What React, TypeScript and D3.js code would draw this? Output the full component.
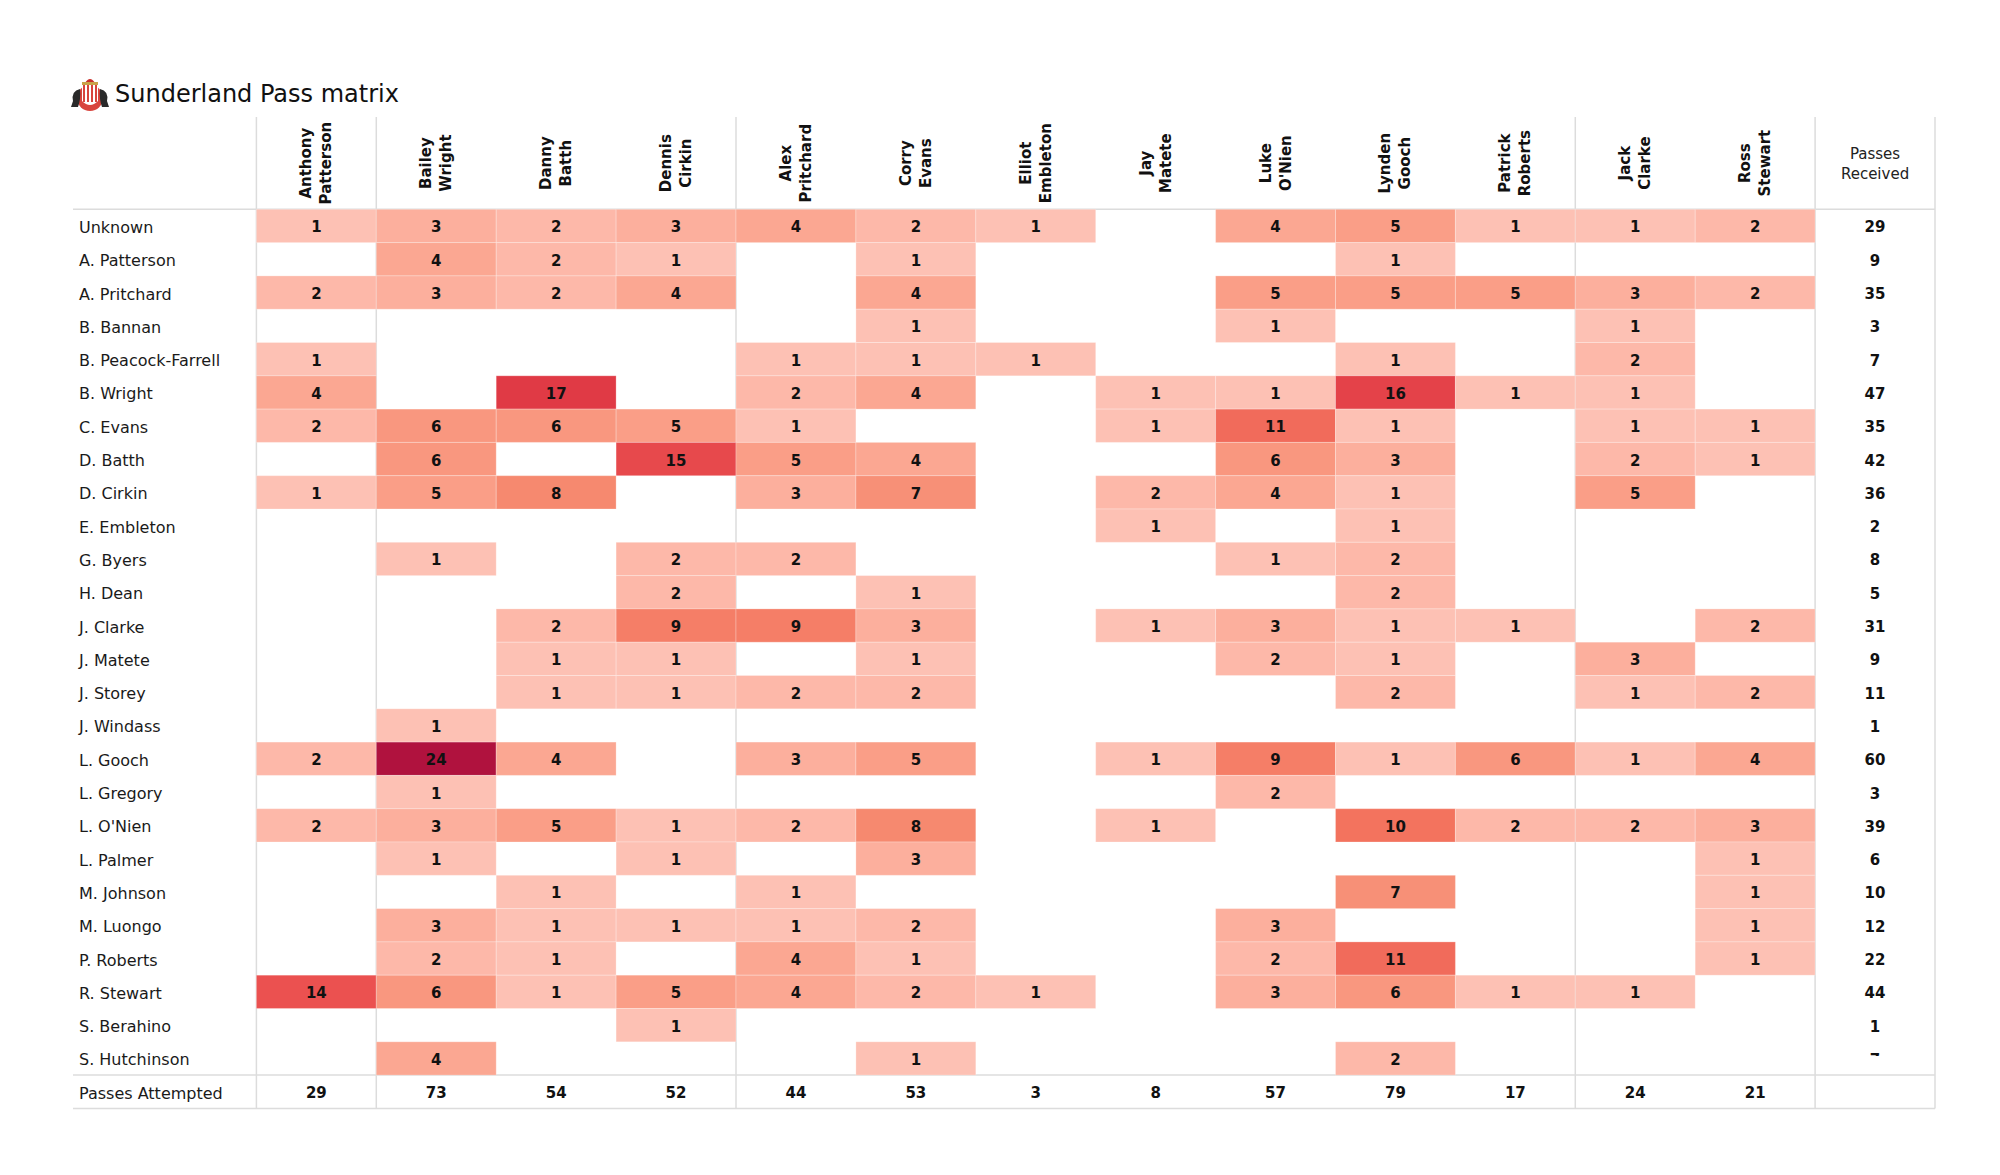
import { useEffect, useRef } from "react";
import * as d3 from "d3";

// rows = passer, columns = receiver (0 = no passes)
const passers = [
  "Unknown", "A. Patterson", "A. Pritchard", "B. Bannan", "B. Peacock-Farrell",
  "B. Wright", "C. Evans", "D. Batth", "D. Cirkin", "E. Embleton", "G. Byers",
  "H. Dean", "J. Clarke", "J. Matete", "J. Storey", "J. Windass", "L. Gooch",
  "L. Gregory", "L. O'Nien", "L. Palmer", "M. Johnson", "M. Luongo",
  "P. Roberts", "R. Stewart", "S. Berahino", "S. Hutchinson",
];

const receivers = [
  "Anthony Patterson", "Bailey Wright", "Danny Batth", "Dennis Cirkin",
  "Alex Pritchard", "Corry Evans", "Elliot Embleton", "Jay Matete",
  "Luke O'Nien", "Lynden Gooch", "Patrick Roberts", "Jack Clarke", "Ross Stewart",
];

const passCounts = [
  [1, 3, 2, 3, 4, 2, 1, 0, 4, 5, 1, 1, 2],
  [0, 4, 2, 1, 0, 1, 0, 0, 0, 1, 0, 0, 0],
  [2, 3, 2, 4, 0, 4, 0, 0, 5, 5, 5, 3, 2],
  [0, 0, 0, 0, 0, 1, 0, 0, 1, 0, 0, 1, 0],
  [1, 0, 0, 0, 1, 1, 1, 0, 0, 1, 0, 2, 0],
  [4, 0, 17, 0, 2, 4, 0, 1, 1, 16, 1, 1, 0],
  [2, 6, 6, 5, 1, 0, 0, 1, 11, 1, 0, 1, 1],
  [0, 6, 0, 15, 5, 4, 0, 0, 6, 3, 0, 2, 1],
  [1, 5, 8, 0, 3, 7, 0, 2, 4, 1, 0, 5, 0],
  [0, 0, 0, 0, 0, 0, 0, 1, 0, 1, 0, 0, 0],
  [0, 1, 0, 2, 2, 0, 0, 0, 1, 2, 0, 0, 0],
  [0, 0, 0, 2, 0, 1, 0, 0, 0, 2, 0, 0, 0],
  [0, 0, 2, 9, 9, 3, 0, 1, 3, 1, 1, 0, 2],
  [0, 0, 1, 1, 0, 1, 0, 0, 2, 1, 0, 3, 0],
  [0, 0, 1, 1, 2, 2, 0, 0, 0, 2, 0, 1, 2],
  [0, 1, 0, 0, 0, 0, 0, 0, 0, 0, 0, 0, 0],
  [2, 24, 4, 0, 3, 5, 0, 1, 9, 1, 6, 1, 4],
  [0, 1, 0, 0, 0, 0, 0, 0, 2, 0, 0, 0, 0],
  [2, 3, 5, 1, 2, 8, 0, 1, 0, 10, 2, 2, 3],
  [0, 1, 0, 1, 0, 3, 0, 0, 0, 0, 0, 0, 1],
  [0, 0, 1, 0, 1, 0, 0, 0, 0, 7, 0, 0, 1],
  [0, 3, 1, 1, 1, 2, 0, 0, 3, 0, 0, 0, 1],
  [0, 2, 1, 0, 4, 1, 0, 0, 2, 11, 0, 0, 1],
  [14, 6, 1, 5, 4, 2, 1, 0, 3, 6, 1, 1, 0],
  [0, 0, 0, 1, 0, 0, 0, 0, 0, 0, 0, 0, 0],
  [0, 4, 0, 0, 0, 1, 0, 0, 0, 2, 0, 0, 0],
];

const passesReceived = [29, 9, 35, 3, 7, 47, 35, 42, 36, 2, 8, 5, 31, 9, 11, 1, 60, 3, 39, 6, 10, 12, 22, 44, 1, 7];
const passesAttempted = [29, 73, 54, 52, 44, 53, 3, 8, 57, 79, 17, 24, 21];

// columns whose left edge gets a divider
const groupStarts = ["Anthony Patterson", "Bailey Wright", "Alex Pritchard", "Jack Clarke", "Passes Received"];

const colorStops = [1, 3, 5, 8, 10, 14, 17, 24];
const colorRange = ["#fdc1b4", "#fcaf9d", "#fa9e87", "#f6896f", "#f3735e", "#eb5150", "#e03a45", "#b0123e"];

const W = 2000, H = 1175;
const FONT = "DejaVu Sans, sans-serif";

const App = () => {
  const ref = useRef<SVGSVGElement>(null);

  useEffect(() => {
    if (!ref.current) return;
    const svg = d3.select(ref.current);
    svg.selectAll("*").remove();

    const left = 73, tableLeft = 256.4, right = 1935;
    const headTop = 117, bodyTop = 209.3, rowH = 33.3;
    const dy = 1.5; // text sits a touch below the centre

    const cols = [...receivers, "Passes Received"];
    const rows = [...passers, "Passes Attempted"];

    const x = d3.scaleBand().domain(cols).range([tableLeft, right]);
    const y = d3.scaleBand().domain(rows).range([bodyTop, bodyTop + rows.length * rowH]);
    const bottom = bodyTop + rows.length * rowH;
    const color = d3.scaleLinear<string>().domain(colorStops).range(colorRange).interpolate(d3.interpolateRgb);

    // vertical dividers
    const lineColor = "#dcdcdc";
    const vx = [...groupStarts.map((c) => x(c)!), right];
    svg.append("g")
      .selectAll("line")
      .data(vx)
      .enter()
      .append("line")
      .attr("x1", (d) => d).attr("x2", (d) => d)
      .attr("y1", headTop).attr("y2", bottom)
      .attr("stroke", lineColor).attr("stroke-width", 1.5);

    // horizontal rules
    const hy = [bodyTop, y("Passes Attempted")!, bottom];
    svg.append("g")
      .selectAll("line")
      .data(hy)
      .enter()
      .append("line")
      .attr("x1", left).attr("x2", right)
      .attr("y1", (d) => d).attr("y2", (d) => d)
      .attr("stroke", lineColor).attr("stroke-width", 1.5);

    // cells
    const cells: { r: string; c: string; v: number }[] = [];
    passCounts.forEach((row, i) =>
      row.forEach((v, j) => cells.push({ r: passers[i], c: receivers[j], v }))
    );
    const filled = cells.filter((d) => d.v > 0);

    svg.append("g")
      .selectAll("rect")
      .data(filled)
      .enter()
      .append("rect")
      .attr("x", (d) => x(d.c)!)
      .attr("y", (d) => y(d.r)!)
      .attr("width", x.bandwidth())
      .attr("height", y.bandwidth())
      .attr("fill", (d) => color(d.v))
      .attr("stroke", "rgba(255,255,255,0.25)")
      .attr("stroke-width", 1);

    svg.append("g")
      .selectAll("text")
      .data(filled)
      .enter()
      .append("text")
      .attr("x", (d) => x(d.c)! + x.bandwidth() / 2)
      .attr("y", (d) => y(d.r)! + y.bandwidth() / 2 + dy)
      .attr("text-anchor", "middle")
      .attr("dominant-baseline", "central")
      .style("font", `bold 15px ${FONT}`)
      .attr("fill", "#111")
      .text((d) => d.v);

    // row labels
    svg.append("g")
      .selectAll("text")
      .data(rows)
      .enter()
      .append("text")
      .attr("x", left + 6)
      .attr("y", (d) => y(d)! + y.bandwidth() / 2 + dy)
      .attr("dominant-baseline", "central")
      .style("font", `16px ${FONT}`)
      .attr("fill", "#1a1a1a")
      .text((d) => d);

    // column headers (rotated, two lines)
    const headMid = (headTop + bodyTop) / 2;
    const hg = svg.append("g")
      .selectAll("g")
      .data(receivers)
      .enter()
      .append("g")
      .attr("transform", (d) => `translate(${x(d)! + x.bandwidth() / 2},${headMid}) rotate(-90)`);
    hg.each(function (d) {
      const parts = d.split(" ");
      const g = d3.select(this);
      parts.forEach((p, k) => {
        g.append("text")
          .attr("x", 0)
          .attr("y", (k - (parts.length - 1) / 2) * 20)
          .attr("text-anchor", "middle")
          .attr("dominant-baseline", "central")
          .style("font", `bold 15px ${FONT}`)
          .attr("fill", "#111")
          .text(p);
      });
    });

    const prX = x("Passes Received")! + x.bandwidth() / 2;
    ["Passes", "Received"].forEach((t, k) => {
      svg.append("text")
        .attr("x", prX)
        .attr("y", headMid - 9 + k * 20)
        .attr("text-anchor", "middle")
        .attr("dominant-baseline", "central")
        .style("font", `15px ${FONT}`)
        .attr("fill", "#222")
        .text(t);
    });

    // passes received column (last value is clipped in the original)
    const lastRow = passers[passers.length - 1];
    svg.append("defs")
      .append("clipPath")
      .attr("id", "clip-last")
      .append("rect")
      .attr("x", x("Passes Received")!)
      .attr("y", y(lastRow)!)
      .attr("width", x.bandwidth())
      .attr("height", y.bandwidth() / 2 - 2.5);

    svg.append("g")
      .selectAll("text")
      .data(passesReceived)
      .enter()
      .append("text")
      .attr("x", prX)
      .attr("y", (_, i) => y(passers[i])! + y.bandwidth() / 2 + dy)
      .attr("text-anchor", "middle")
      .attr("dominant-baseline", "central")
      .attr("clip-path", (_, i) => (i === passers.length - 1 ? "url(#clip-last)" : null))
      .style("font", `bold 15px ${FONT}`)
      .attr("fill", "#111")
      .text((d) => d);

    // passes attempted row
    svg.append("g")
      .selectAll("text")
      .data(passesAttempted)
      .enter()
      .append("text")
      .attr("x", (_, j) => x(receivers[j])! + x.bandwidth() / 2)
      .attr("y", y("Passes Attempted")! + y.bandwidth() / 2 + dy)
      .attr("text-anchor", "middle")
      .attr("dominant-baseline", "central")
      .style("font", `bold 15px ${FONT}`)
      .attr("fill", "#111")
      .text((d) => d);

    // title + crest
    svg.append("text")
      .attr("x", 115)
      .attr("y", 102)
      .style("font", `24px ${FONT}`)
      .attr("fill", "#111")
      .text("Sunderland Pass matrix");

    const crest = svg.append("g").attr("transform", "translate(90,95)");
    crest.append("path")
      .attr("d", "M-5,-12 Q0,-20 5,-12 Z")
      .attr("fill", "#c9302c");
    crest.append("rect").attr("x", -8).attr("y", -13).attr("width", 16).attr("height", 3).attr("fill", "#c9a24a");
    crest.append("circle").attr("r", 13).attr("cy", 3).attr("fill", "#d8443d");
    crest.append("path")
      .attr("d", "M-8,-10 L8,-10 L8,6 Q0,14 -8,6 Z")
      .attr("fill", "#fff");
    [-6, -2, 2, 6].forEach((sx) => {
      crest.append("rect").attr("x", sx - 1).attr("y", -10).attr("width", 2).attr("height", 17).attr("fill", "#d8443d");
    });
    [-1, 1].forEach((s) => {
      crest.append("path")
        .attr("d", `M${s * 10},-6 Q${s * 19},-4 ${s * 17},6 L${s * 19},12 L${s * 12},12 Q${s * 9},4 ${s * 10},-6 Z`)
        .attr("fill", "#2a2a2a");
    });
  }, []);

  return (
    <div style={{ position: "absolute", left: 0, top: 0 }}>
      <svg ref={ref} width={W} height={H} style={{ display: "block", background: "#fff" }} />
    </div>
  );
};

export default App;
